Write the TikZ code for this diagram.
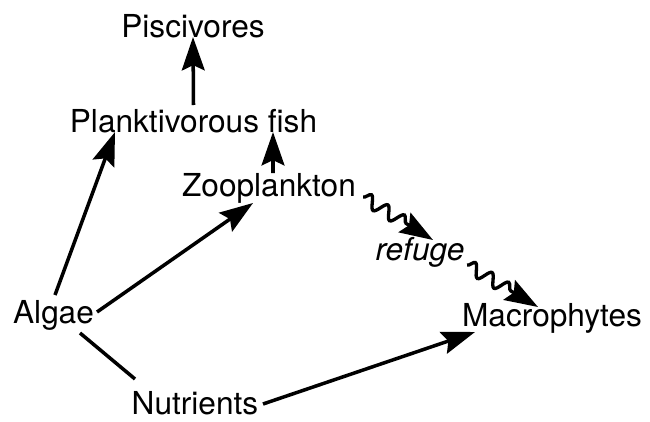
\documentclass[tikz,border=0pt]{standalone}
\usepackage{fontspec}
\setmainfont{TeX Gyre Heros}
\usetikzlibrary{arrows.meta,decorations.pathmorphing}

\begin{document}
\begin{tikzpicture}[font=\fontsize{18}{21}\selectfont,
  lbl/.style={inner sep=0pt,outer sep=0pt,anchor=base},
  link/.style={line width=2pt,-{Stealth[length=19pt,width=13pt,inset=3pt]}},
  wavy/.style={line width=1.9pt,-{Stealth[length=19pt,width=13pt,inset=3pt]},
    decorate,decoration={snake,amplitude=3.6pt,segment length=11pt,post length=16pt}}]
\useasboundingbox (0,0) rectangle (13,8.42);
% taxa and resources
\node[lbl] (pisc) at (3.86,7.68) {Piscivores};
\node[lbl] (plank) at (3.87,5.78) {Planktivorous fish};
\node[lbl] (zoo) at (5.38,4.50) {Zooplankton};
\node[lbl] (refuge) at (8.40,3.22) {\itshape refuge};
\node[lbl] (algae) at (1.07,1.96) {Algae};
\node[lbl] (macro) at (11.04,1.90) {Macrophytes};
\node[lbl] (nutr) at (3.90,0.14) {Nutrients};
% feeding links
\draw[link] ([yshift=0.54cm]plank.base) -- (pisc.base);
\draw[link] ([shift={(0.08,0.46)}]zoo.base) -- ([xshift=1.59cm]plank.base);
\draw[link] ([shift={(0.03,0.56)}]algae.base) -- ([xshift=-1.57cm]plank.base);
\draw[link] ([shift={(0.87,0.22)}]algae.base) -- ([shift={(-0.32,-0.14)}]zoo.base);
\draw[line width=2pt] ([shift={(0.53,-0.20)}]algae.base) -- ([shift={(-1.20,0.70)}]nutr.base);
\draw[link] ([shift={(1.36,0.20)}]nutr.base) -- ([shift={(-1.54,-0.12)}]macro.base);
% refuge effect
\draw[wavy] ([shift={(1.88,-0.02)}]zoo.base) -- ([shift={(0.26,0.40)}]refuge.base);
\draw[wavy] ([shift={(0.94,-0.10)}]refuge.base) -- ([shift={(-0.28,0.38)}]macro.base);
\end{tikzpicture}
\end{document}
